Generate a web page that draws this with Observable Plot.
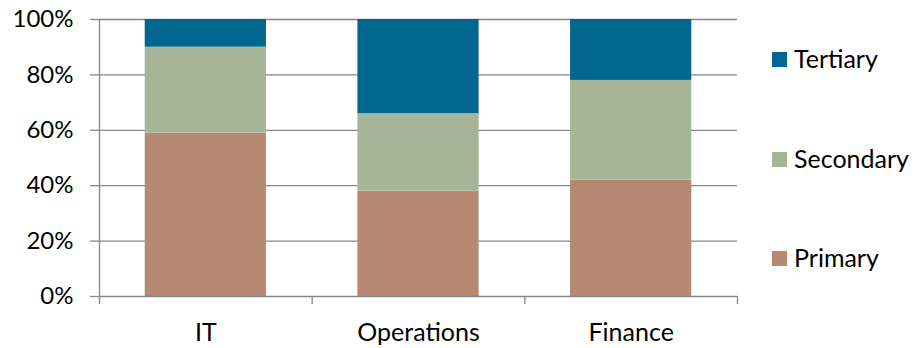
<!DOCTYPE html>
<html>
<head>
<meta charset="utf-8">
<script src="https://cdn.jsdelivr.net/npm/d3@7"></script>
<script src="https://cdn.jsdelivr.net/npm/@observablehq/plot@0.6"></script>
<style>
  html, body { margin: 0; padding: 0; background: #fff; }
  #wrap { position: relative; width: 924px; height: 348px; }
  .legend { position: absolute; left: 772px; font-family: Lato, "Noto Sans", sans-serif; font-size: 25px; color: #000; display: flex; align-items: center; line-height: 1; }
  .legend .sw { width: 15px; height: 15px; margin-right: 7px; display: inline-block; position: relative; top: 1px; }
</style>
</head>
<body>
<div id="wrap"></div>
<script>
const departments = ["IT", "Operations", "Finance"];
const levels = ["Primary", "Secondary", "Tertiary"];
const primary = [59, 38, 42];
const secondary = [31, 28, 36];
const tertiary = [10, 34, 22];
const yTicks = [0, 20, 40, 60, 80, 100];
const colors = ["#B68A72", "#A5B597", "#02678F"];

const series = [primary, secondary, tertiary];
const table = [];
departments.forEach((dept, i) => {
  levels.forEach((level, j) => {
    table.push({dept, i, level, value: series[j][i]});
  });
});

const grid = "#878787";
const half = 0.285; // half bar width in category units

const chart = Plot.plot({
  width: 924,
  height: 348,
  marginLeft: 99,
  marginRight: 187,
  marginTop: 19,
  marginBottom: 52,
  style: {fontFamily: "Lato, 'Noto Sans', sans-serif", fontSize: "25px", color: "#000", background: "#fff"},
  x: {type: "linear", domain: [0, departments.length]},
  y: {domain: [0, 100]},
  color: {domain: levels, range: colors},
  marks: [
    Plot.ruleY(yTicks.filter(d => d > 0), {y: d => d, x1: 0, x2: departments.length, stroke: grid, strokeWidth: 1.3}),
    Plot.rectY(table, {
      x1: d => d.i + 0.5 - half,
      x2: d => d.i + 0.5 + half,
      y: "value",
      fill: "level"
    }),
    Plot.ruleY([0], {x1: 0, x2: departments.length, stroke: grid, strokeWidth: 1.3}),
    Plot.ruleX([0], {y1: 0, y2: 100, stroke: grid, strokeWidth: 1.3}),
    Plot.axisY({ticks: yTicks, tickFormat: d => d + "%", tickSize: 9, tickPadding: 17, stroke: grid, strokeWidth: 1.3, label: null, fill: "#000", fontSize: 24}),
    Plot.axisX({ticks: d3.range(departments.length + 1), tickSize: 8, tickFormat: () => "", stroke: grid, strokeWidth: 1.3, label: null}),
    Plot.axisX({ticks: departments.map((d, i) => i + 0.5), tickSize: 0, tickPadding: 27, tickFormat: (d) => departments[Math.floor(d)], label: null, fill: "#000"})
  ]
});

const wrap = document.getElementById("wrap");
wrap.appendChild(chart);

const legendTops = {Tertiary: 46, Secondary: 146, Primary: 245};
[...levels].reverse().forEach(level => {
  const div = document.createElement("div");
  div.className = "legend";
  div.style.top = legendTops[level] + "px";
  const sw = document.createElement("span");
  sw.className = "sw";
  sw.style.background = colors[levels.indexOf(level)];
  div.appendChild(sw);
  div.appendChild(document.createTextNode(level));
  wrap.appendChild(div);
});
</script>
</body>
</html>
